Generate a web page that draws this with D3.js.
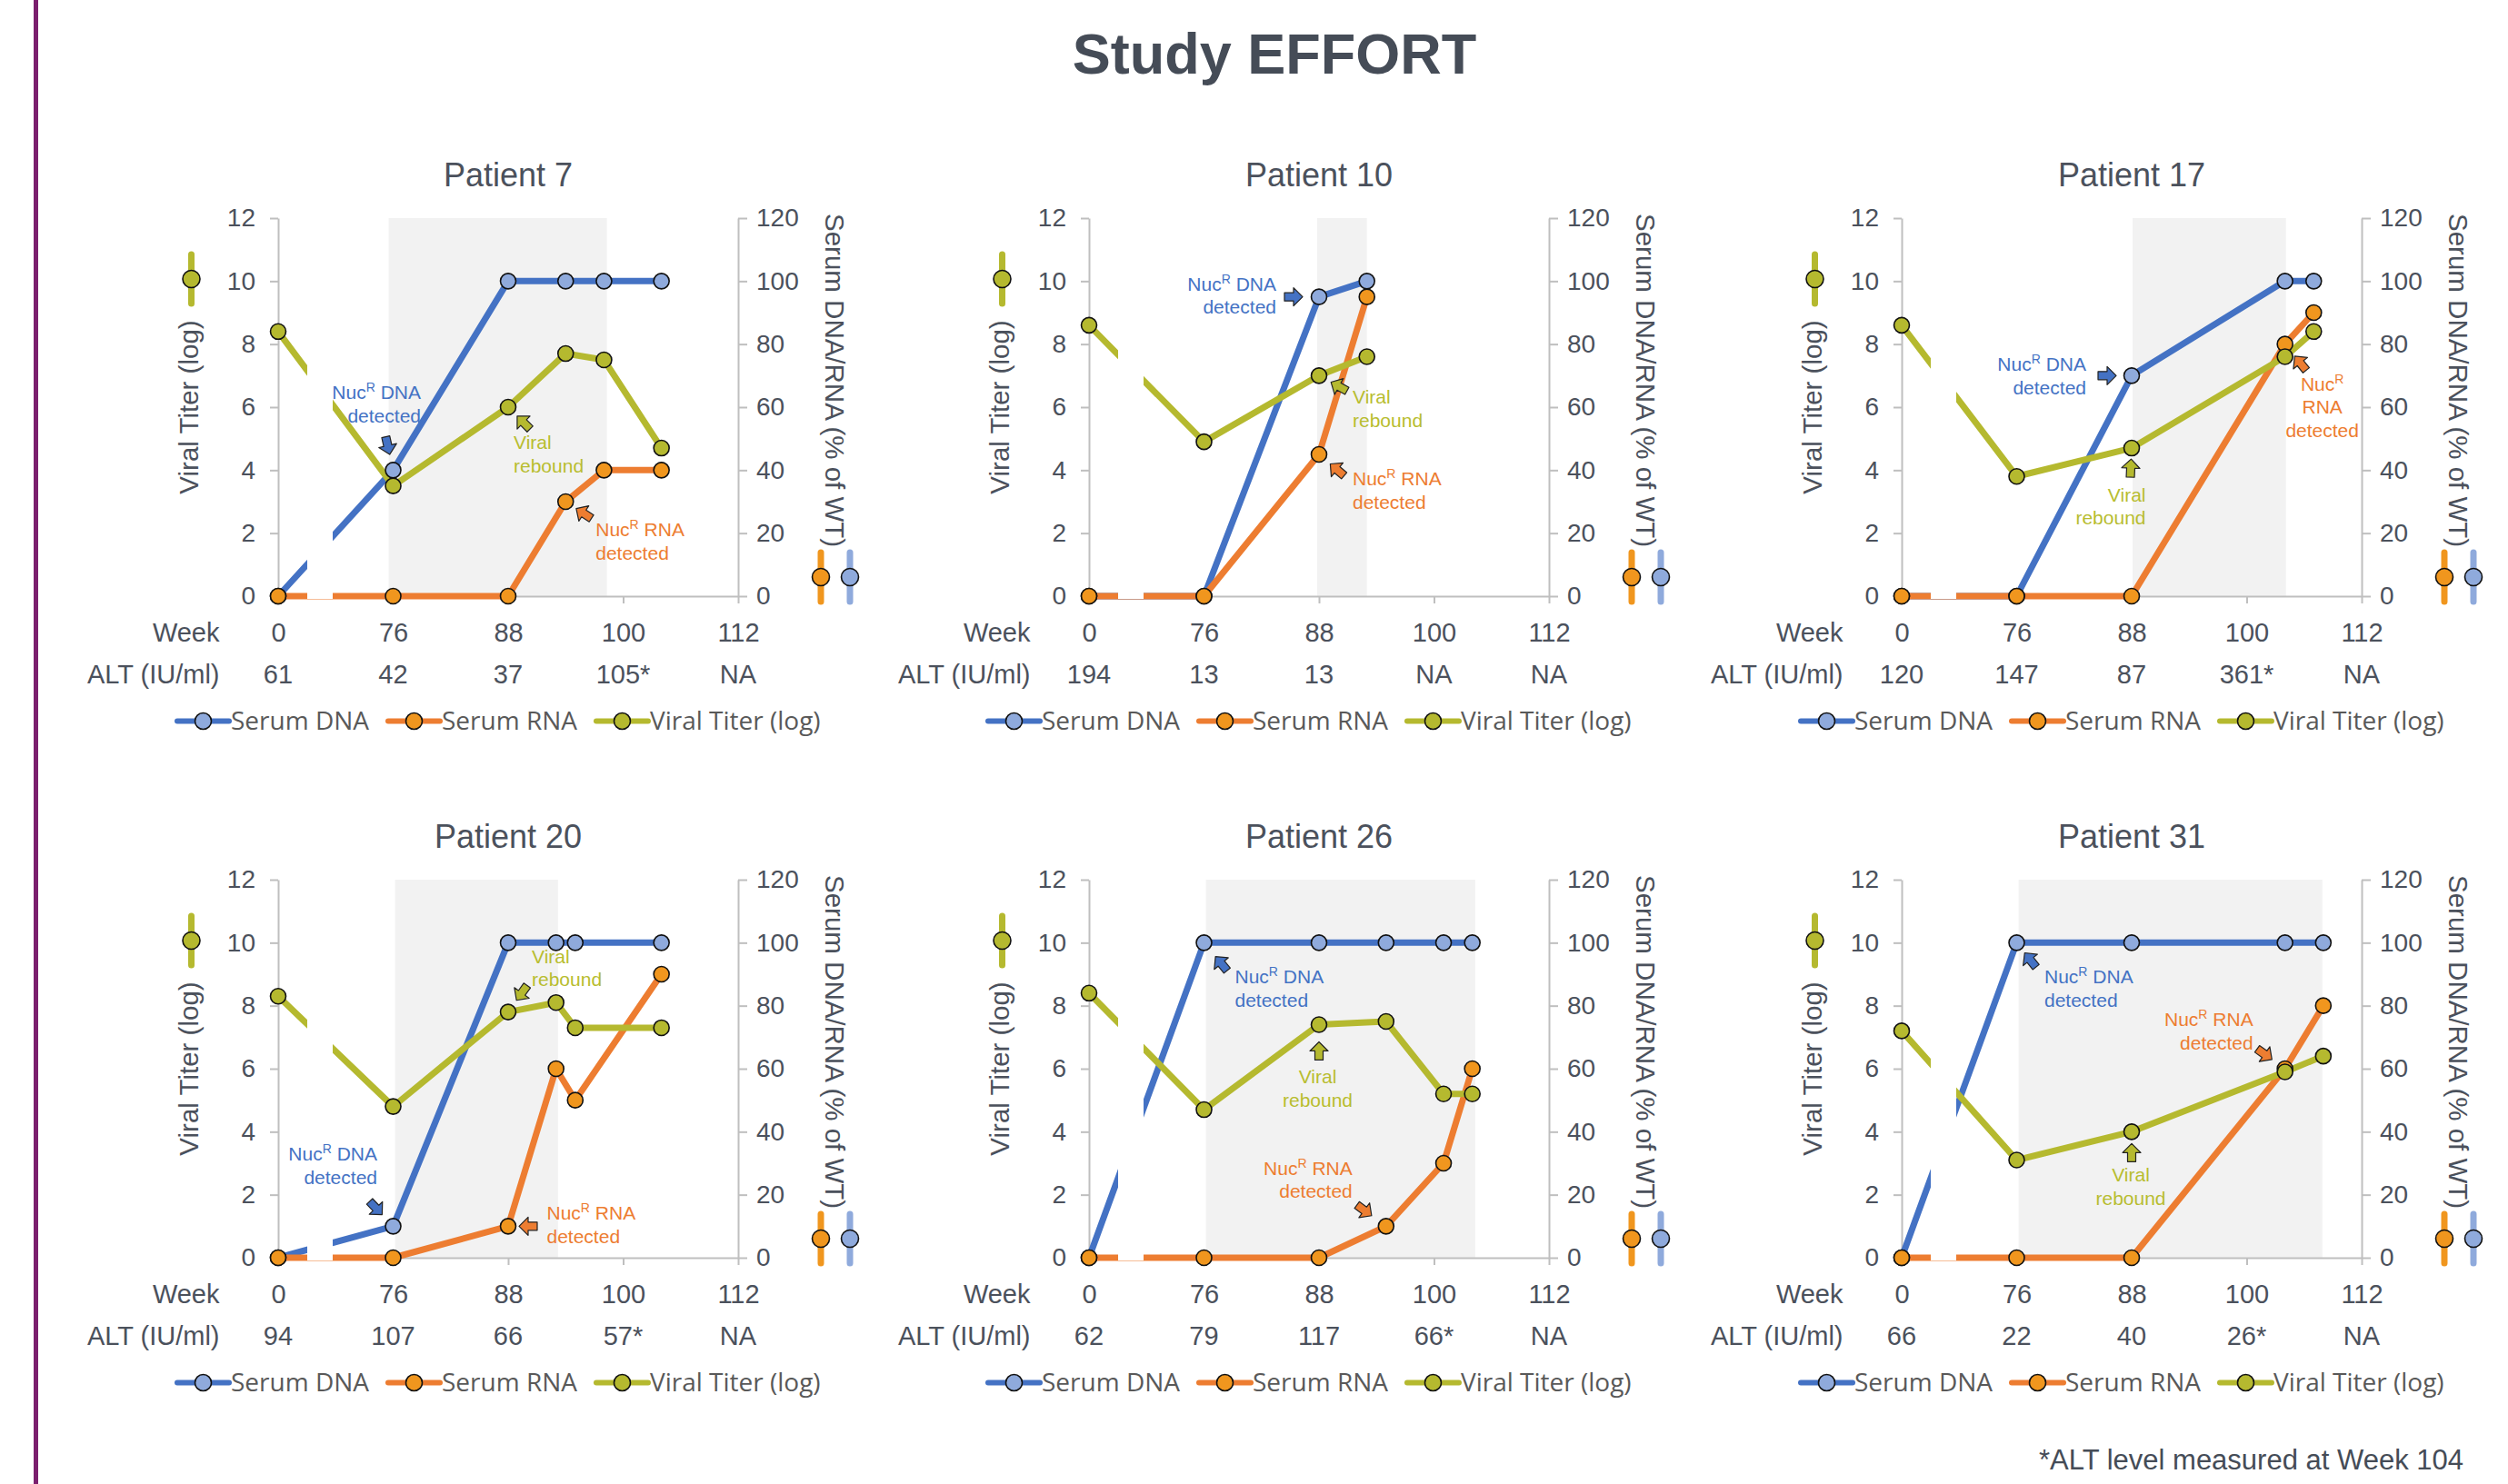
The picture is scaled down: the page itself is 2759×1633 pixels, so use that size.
<!DOCTYPE html>
<html>
<head>
<meta charset="utf-8">
<title>Study EFFORT</title>
<script src="https://cdn.jsdelivr.net/npm/d3@7"></script>
<style>
  html, body { margin: 0; padding: 0; background: #fff; }
  svg { display: block; }
  text { font-family: "Liberation Sans", Arial, sans-serif; fill: #4b515c; }
  .legend text { font-family: "Open Sans", sans-serif; fill: #595959; }
</style>
</head>
<body>
<svg id="the-svg" width="2759" height="1633"></svg>
<script>

////////////
//  Data  //
////////////

const PATIENTS = ['Patient 7', 'Patient 10', 'Patient 17', 'Patient 20', 'Patient 26', 'Patient 31'];
const WEEK_TICKS = [0, 76, 88, 100, 112];

const ALT_VALUES = [
  ['61', '42', '37', '105*', 'NA'],
  ['194', '13', '13', 'NA', 'NA'],
  ['120', '147', '87', '361*', 'NA'],
  ['94', '107', '66', '57*', 'NA'],
  ['62', '79', '117', '66*', 'NA'],
  ['66', '22', '40', '26*', 'NA']
];

// grey band (weeks) behind each panel
const SHADE_WEEKS = [[73, 98.3], [87.8, 93], [88.1, 104.1], [76.2, 93.2], [76.2, 104.3], [76.2, 107.9]];

const VISIT_WEEKS = [
  [0, 76, 88, 94, 98, 104],
  [0, 76, 88, 93],
  [0, 76, 88, 104, 107],
  [0, 76, 88, 93, 95, 104],
  [0, 76, 88, 95, 101, 104],
  [0, 76, 88, 104, 108]
];

// % of WT, right axis
const SERUM_DNA = [
  [0, 40, 100, 100, 100, 100],
  [0, 0, 95, 100],
  [0, 0, 70, 100, 100],
  [0, 10, 100, 100, 100, 100],
  [0, 100, 100, 100, 100, 100],
  [0, 100, 100, 100, 100]
];
const SERUM_RNA = [
  [0, 0, 0, 30, 40, 40],
  [0, 0, 45, 95],
  [0, 0, 0, 80, 90],
  [0, 0, 10, 60, 50, 90],
  [0, 0, 0, 10, 30, 60],
  [0, 0, 0, 60, 80]
];
// log, left axis
const VIRAL_TITER = [
  [8.4, 3.5, 6.0, 7.7, 7.5, 4.7],
  [8.6, 4.9, 7.0, 7.6],
  [8.6, 3.8, 4.7, 7.6, 8.4],
  [8.3, 4.8, 7.8, 8.1, 7.3, 7.3],
  [8.4, 4.7, 7.4, 7.5, 5.2, 5.2],
  [7.2, 3.1, 4.0, 5.9, 6.4]
];

const SERIES_NAMES = ['Serum DNA', 'Serum RNA', 'Viral Titer (log)'];

//////////////
//  Layout  //
//////////////

const COL_X = [306, 1198, 2092];
const ROW_Y = [240, 968];
const PLOT_W = 506;
const PLOT_H = 416;

const LINE_COLORS = ['#4472c4', '#ed7d31', '#b5b92f'];
const MARKER_COLORS = ['#8faadc', '#f0961e', '#b5b92f'];
const TEXT_COLORS = ['#4472c4', '#ed7d31', '#b8bd30'];
const AXIS_COLOR = '#bfbfbf';

/*
 * Callouts, anchored on one point of a series (s: 0 DNA, 1 RNA, 2 viral),
 * with pixel offsets for the arrow centre and the text.
 */
const DNA_TXT = ['Nuc^R DNA', 'detected'];
const RNA_TXT = ['Nuc^R RNA', 'detected'];
const VIR_TXT = ['Viral', 'rebound'];
const NOTES = [
  [
    { s: 0, i: 1, ax: -6, ay: -27, tx: 30.5, ty: -78, anchor: 'end', lines: DNA_TXT },
    { s: 2, i: 2, ax: 17, ay: 17, tx: 6, ty: 46, anchor: 'start', lines: VIR_TXT },
    { s: 1, i: 3, ax: 20, ay: 13, tx: 33, ty: 38, anchor: 'start', lines: RNA_TXT }
  ],
  [
    { s: 0, i: 2, ax: -28, ay: 0, tx: -47, ty: -7, anchor: 'end', lines: DNA_TXT },
    { s: 2, i: 2, ax: 22, ay: 12, tx: 37, ty: 31, anchor: 'start', lines: VIR_TXT },
    { s: 1, i: 2, ax: 20, ay: 17, tx: 37, ty: 34, anchor: 'start', lines: RNA_TXT }
  ],
  [
    { s: 0, i: 2, ax: -27, ay: 0, tx: -50, ty: -5, anchor: 'end', lines: DNA_TXT },
    { s: 2, i: 2, ax: -1, ay: 22, tx: 15.5, ty: 58.5, anchor: 'end', lines: VIR_TXT },
    { s: 1, i: 3, ax: 17, ay: 21, tx: 41, ty: 51, anchor: 'middle', lines: ['Nuc^R', 'RNA', 'detected'] }
  ],
  [
    { s: 0, i: 1, ax: -19, ay: -20, tx: -17.5, ty: -72, anchor: 'end', lines: DNA_TXT },
    { s: 2, i: 2, ax: 15, ay: -21, tx: 26, ty: -54, anchor: 'start', lines: VIR_TXT },
    { s: 1, i: 2, ax: 22, ay: 0, tx: 42.5, ty: -7, anchor: 'start', lines: RNA_TXT }
  ],
  [
    { s: 0, i: 1, ax: 19, ay: 23, tx: 34, ty: 45, anchor: 'start', lines: DNA_TXT },
    { s: 2, i: 2, ax: 0, ay: 29, tx: -1.5, ty: 65, anchor: 'middle', lines: VIR_TXT },
    { s: 1, i: 3, ax: -24, ay: -17.5, tx: -37, ty: -56.5, anchor: 'end', lines: RNA_TXT }
  ],
  [
    { s: 0, i: 1, ax: 15, ay: 19, tx: 30.5, ty: 45, anchor: 'start', lines: DNA_TXT },
    { s: 2, i: 2, ax: 0, ay: 23, tx: -1, ty: 55, anchor: 'middle', lines: VIR_TXT },
    { s: 1, i: 3, ax: -22.5, ay: -16, tx: -35, ty: -47, anchor: 'end', lines: RNA_TXT }
  ]
];

const ARROW_PATH = 'M-10,-4.5H0V-10L10,0L0,10V4.5H-10Z';

const svg = d3.select('#the-svg');

svg.append('rect')
  .attr('x', 37).attr('y', 0)
  .attr('width', 5).attr('height', 1633)
  .attr('fill', '#7b1f6e');

svg.append('text')
  .attr('x', 1402).attr('y', 81)
  .attr('text-anchor', 'middle')
  .attr('font-size', 63)
  .attr('font-weight', 'bold')
  .style('fill', '#454c57')
  .text('Study EFFORT');

svg.append('text')
  .attr('x', 2710).attr('y', 1617)
  .attr('text-anchor', 'end')
  .attr('font-size', 31)
  .style('fill', '#454c57')
  .text('*ALT level measured at Week 104');

PATIENTS.forEach((name, p) => drawPanel(p));

function styleAxis(g, fontSize) {
  g.select('.domain').attr('stroke', AXIS_COLOR).attr('stroke-width', 2);
  g.selectAll('.tick line').attr('stroke', AXIS_COLOR).attr('stroke-width', 2);
  g.selectAll('.tick text')
    .attr('font-size', fontSize)
    .attr('font-family', null)
    .attr('fill', null);
  g.attr('font-family', null).attr('font-size', null);
}

function drawPanel(p) {
  const L = COL_X[p % 3];
  const T = ROW_Y[Math.floor(p / 3)];
  const B = T + PLOT_H;
  const R = L + PLOT_W;

  const x = d3.scaleLinear()
    .domain(WEEK_TICKS)
    .range(WEEK_TICKS.map((d, k) => L + k * PLOT_W / 4));
  const yL = d3.scaleLinear().domain([0, 12]).range([B, T]);
  const yR = d3.scaleLinear().domain([0, 120]).range([B, T]);

  const g = svg.append('g');

  // shaded period
  const sh = SHADE_WEEKS[p];
  g.append('rect')
    .attr('x', x(sh[0])).attr('y', T)
    .attr('width', x(sh[1]) - x(sh[0]))
    .attr('height', B - T)
    .attr('fill', '#f2f2f2');

  // axes
  g.append('g')
    .attr('transform', `translate(${L},0)`)
    .call(d3.axisLeft(yL).tickValues(d3.range(0, 13, 2)).tickSize(9).tickSizeOuter(0).tickPadding(16))
    .call(a => styleAxis(a, 28));

  g.append('g')
    .attr('transform', `translate(${R},0)`)
    .call(d3.axisRight(yR).tickValues(d3.range(0, 121, 20)).tickSize(10).tickSizeOuter(0).tickPadding(10))
    .call(a => styleAxis(a, 28));

  g.append('g')
    .attr('transform', `translate(0,${B})`)
    .call(d3.axisBottom(x).tickValues(WEEK_TICKS).tickSize(8).tickSizeOuter(0).tickPadding(21))
    .call(a => styleAxis(a, 29));

  // series
  const weeks = VISIT_WEEKS[p];
  const series = [
    { vals: SERUM_DNA[p], y: yR },
    { vals: SERUM_RNA[p], y: yR },
    { vals: VIRAL_TITER[p], y: yL }
  ];
  const pts = series.map(s => s.vals.map((v, k) => ({ x: x(weeks[k]), y: s.y(v) })));

  pts.forEach((sp, s) => {
    g.append('path')
      .datum(sp)
      .attr('fill', 'none')
      .attr('stroke', LINE_COLORS[s])
      .attr('stroke-width', 7)
      .attr('stroke-linejoin', 'round')
      .attr('stroke-linecap', 'round')
      .attr('d', d3.line().x(d => d.x).y(d => d.y));
  });

  pts.forEach((sp, s) => {
    g.append('g')
      .selectAll('circle')
      .data(sp)
      .enter()
      .append('circle')
        .attr('cx', d => d.x)
        .attr('cy', d => d.y)
        .attr('r', 8.5)
        .attr('fill', MARKER_COLORS[s])
        .attr('stroke', '#111')
        .attr('stroke-width', 1.6);
  });

  // axis break
  g.append('rect')
    .attr('x', L + 32).attr('y', T - 4)
    .attr('width', 28).attr('height', B - T + 7)
    .attr('fill', '#fff');

  // callouts
  NOTES[p].forEach(n => {
    const pt = pts[n.s][n.i];
    const ang = Math.atan2(-n.ay, -n.ax) * 180 / Math.PI;
    g.append('path')
      .attr('d', ARROW_PATH)
      .attr('transform', `translate(${pt.x + n.ax},${pt.y + n.ay}) rotate(${ang})`)
      .attr('fill', LINE_COLORS[n.s])
      .attr('stroke', '#222')
      .attr('stroke-width', 1.2)
      .attr('stroke-linejoin', 'round');

    const t = g.append('text')
      .attr('font-size', 21)
      .attr('text-anchor', n.anchor)
      .style('fill', TEXT_COLORS[n.s]);
    n.lines.forEach((line, k) => {
      const parts = line.split('^');
      const yy = pt.y + n.ty + k * 25.5;
      t.append('tspan').attr('x', pt.x + n.tx).attr('y', yy).text(parts[0]);
      if (parts.length > 1) {
        t.append('tspan').attr('font-size', 14).attr('dy', -8).text(parts[1][0]);
        const rest = parts[1].slice(1);
        if (rest) t.append('tspan').attr('dy', 8).text(rest);
      }
    });
  });

  // titles
  g.append('text')
    .attr('x', (L + R) / 2).attr('y', T - 35.5)
    .attr('text-anchor', 'middle')
    .attr('font-size', 36)
    .text(PATIENTS[p]);

  g.append('text')
    .attr('transform', `translate(${L - 88},${(T + B) / 2}) rotate(-90)`)
    .attr('text-anchor', 'middle')
    .attr('font-size', 29.5)
    .text('Viral Titer (log)');

  g.append('text')
    .attr('transform', `translate(${R + 96},${T - 5}) rotate(90)`)
    .attr('text-anchor', 'start')
    .attr('font-size', 29.5)
    .text('Serum DNA/RNA (% of WT)');

  // axis key icons
  const icons = [
    { cx: L - 95.5, cy: T + 67, s: 2 },
    { cx: R + 91, cy: B - 21, s: 1 },
    { cx: R + 123, cy: B - 21, s: 0 }
  ];
  icons.forEach(ic => {
    g.append('line')
      .attr('x1', ic.cx).attr('x2', ic.cx)
      .attr('y1', ic.cy - 27).attr('y2', ic.cy + 27)
      .attr('stroke', MARKER_COLORS[ic.s])
      .attr('stroke-width', 7)
      .attr('stroke-linecap', 'round');
    g.append('circle')
      .attr('cx', ic.cx).attr('cy', ic.cy).attr('r', 9.5)
      .attr('fill', MARKER_COLORS[ic.s])
      .attr('stroke', '#111')
      .attr('stroke-width', 1.6);
  });

  // Week / ALT rows
  g.append('text')
    .attr('x', L - 64.5).attr('y', B + 50)
    .attr('text-anchor', 'end')
    .attr('font-size', 29)
    .text('Week');
  g.append('text')
    .attr('x', L - 64.5).attr('y', B + 96)
    .attr('text-anchor', 'end')
    .attr('font-size', 29)
    .text('ALT (IU/ml)');
  g.append('g')
    .selectAll('text')
    .data(ALT_VALUES[p])
    .enter()
    .append('text')
      .attr('x', (d, k) => x(WEEK_TICKS[k]))
      .attr('y', B + 96)
      .attr('text-anchor', 'middle')
      .attr('font-size', 29)
      .text(d => d);

  // legend
  const lg = g.append('g').attr('class', 'legend');
  let cx = L - 111;
  SERIES_NAMES.forEach((nm, s) => {
    const ly = B + 137.5;
    lg.append('line')
      .attr('x1', cx).attr('x2', cx + 57)
      .attr('y1', ly).attr('y2', ly)
      .attr('stroke', LINE_COLORS[s])
      .attr('stroke-width', 6)
      .attr('stroke-linecap', 'round');
    lg.append('circle')
      .attr('cx', cx + 28.5).attr('cy', ly).attr('r', 9)
      .attr('fill', MARKER_COLORS[s])
      .attr('stroke', '#111')
      .attr('stroke-width', 1.6);
    const t = lg.append('text')
      .attr('x', cx + 59).attr('y', B + 146.5)
      .attr('font-size', 28)
      .text(nm);
    cx += 59 + t.node().getComputedTextLength() + 21;
  });
}
</script>
</body>
</html>
